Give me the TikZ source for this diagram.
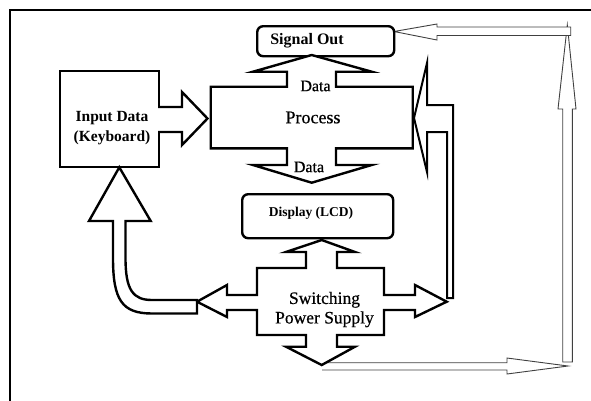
\documentclass[tikz,border=0pt]{standalone}
\usepackage{fontspec}
\setmainfont{Liberation Serif}
\newfontfamily\medserif[FakeBold=0.6]{Liberation Serif}
\begin{document}
\begin{tikzpicture}[x=1pt,y=-1pt,
  blk/.style={draw=black,line width=2.4pt,line join=miter,fill=white},
  rbox/.style={draw=black,line width=2.4pt,rounded corners=6pt,fill=white},
  thin/.style={draw=black!75,line width=0.9pt,line join=miter,fill=white},
  lbl/.style={inner sep=0pt,align=center,text=black}]
\useasboundingbox (0,0) rectangle (591,400);
% frame
\draw[line width=2.2pt] (10,402) -- (10,10) -- (593,10);
% thin hollow arrows
\draw[thin] (562.7,362) -- (562.7,109) -- (558,109) -- (567.3,25) -- (576,109) -- (572.3,109) -- (572.3,362) -- cycle;
\draw[thin] (570.7,27) -- (437,27) -- (437,24) -- (394,31.5) -- (437,40) -- (437,35.5) -- (570.7,35.5) -- cycle;
\draw[thin] (322,362.7) -- (507,362.7) -- (507,358) -- (568,366) -- (507,374) -- (507,370) -- (322,370);
% boxes
\node[blk,minimum width=99pt,minimum height=96pt,anchor=north west] (inbox) at (59,70) {};
\node[rbox,minimum width=137pt,minimum height=30pt,anchor=north west] (sigbox) at (256,25) {};
\node[rbox,minimum width=151pt,minimum height=44pt,anchor=north west] (dispbox) at (241,193) {};
% input -> process arrow
\draw[blk] (158,107) -- (182,107) -- (182,92) -- (207.5,118.5) -- (182,145) -- (182,132) -- (158,132);
% process shape
\draw[blk] (210.7,86.7) -- (287,86.7) -- (287,71.7) -- (253,71.7) -- (311.7,55) -- (371.7,71.7) -- (336,71.7) -- (336,86.7) -- (412.7,86.7) -- (412.7,148.3) -- (336,148.3) -- (336,165) -- (371.7,165) -- (311.7,182.7) -- (253,165) -- (287,165) -- (287,148.3) -- (210.7,148.3) -- cycle;
% bent arrow into process from right
\draw[blk,line width=2pt] (414,118) -- (427,63) -- (427,105) -- (453,105) -- (453,298) -- (447,298) -- (447,132) -- (427,132) -- (427,172) -- cycle;
% switching power supply shape
\draw[blk] (257,268) -- (306,268) -- (306,252) -- (286,252) -- (321.7,240) -- (355,252) -- (337,252) -- (337,268) -- (384,268) -- (384,295) -- (415,295) -- (415,285) -- (446.7,301.7) -- (415,317) -- (415,310) -- (384,310) -- (384,335) -- (337,335) -- (337,346.7) -- (355,346.7) -- (321.7,365) -- (286,346.7) -- (306,346.7) -- (306,335) -- (257,335) -- (257,310) -- (227,310) -- (227,317) -- (197,301.7) -- (227,285) -- (227,295) -- (257,295) -- cycle;
% curved arrow to input
\draw[blk] (119.3,167.3) -- (150.7,221) -- (125.5,221) -- (125.5,258) .. controls (125.5,290) and (133,300) .. (152,300) -- (197,300) -- (197,313.5) -- (152,313.5) .. controls (122,313.5) and (113,300) .. (113,258) -- (113,221) -- (89,221) -- cycle;
% texts
\node[lbl,font=\fontsize{15.5}{20}\selectfont\bfseries] (intext) at (112,128) {Input Data\\(Keyboard)};
\node[lbl,font=\fontsize{16}{20}\selectfont\bfseries] (sigtext) at (307,40.5) {Signal Out};
\node[lbl,font=\fontsize{13.5}{16}\selectfont\bfseries] (disptext) at (311,213) {Display (LCD)};
\node[lbl,font=\fontsize{18}{20}\selectfont\medserif] (proctext) at (313,117.5) {Process};
\node[lbl,font=\fontsize{16}{20}\selectfont\medserif] (data1) at (315.5,86) {Data};
\node[lbl,font=\fontsize{16}{20}\selectfont\medserif] (data2) at (309,167) {Data};
\node[lbl,font=\fontsize{17.5}{19.5}\selectfont\medserif] (swtext) at (324.5,309.5) {Switching\\Power Supply};
\end{tikzpicture}
\end{document}
